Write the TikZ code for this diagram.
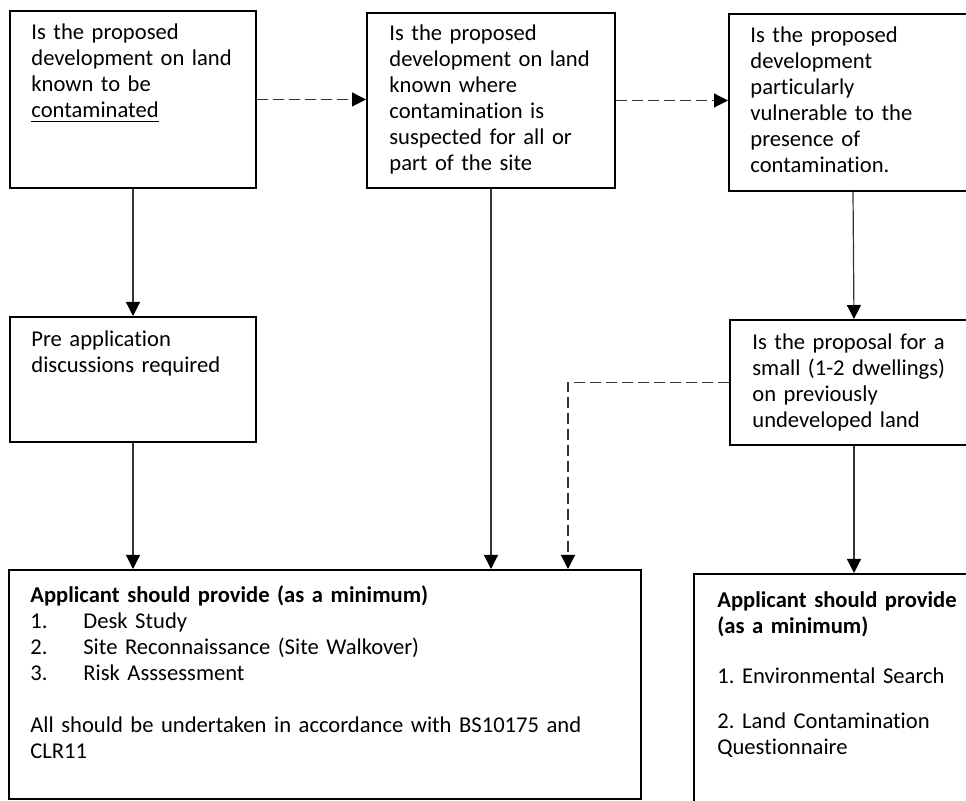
\documentclass[tikz,border=0pt]{standalone}
\usepackage{fontspec}
\setmainfont{Carlito}[Ligatures=NoCommon]
\usetikzlibrary{arrows.meta}
\frenchspacing

\tikzset{
  qbox/.style={draw, line width=1pt, anchor=north west, inner sep=0pt},
  qtext/.style={anchor=base west, align=left, inner sep=0pt, text width=#1,
    font=\fontsize{11.3}{13}\selectfont},
  qtext/.default=150pt,
  link/.style={draw=black!80, line width=0.6pt},
  dlink/.style={link, dash pattern=on 5.5pt off 2.5pt},
}

\begin{document}
\begin{tikzpicture}[->,>={Triangle[length=7pt,width=7pt,color=black]},x=0.5pt,y=-0.5pt]
   \useasboundingbox (0,0) rectangle (966,801);
   \clip (0,0) rectangle (966,801);
   % boxes
   \node[qbox, minimum width=123pt, minimum height=88.5pt] (a) at (9,10) {};
   \node[qbox, minimum width=124pt, minimum height=87.5pt] (b) at (366,12) {};
   \node[qbox, minimum width=124pt, minimum height=88.5pt] (c) at (728,13) {};
   \node[qbox, minimum width=123pt, minimum height=62.5pt] (d) at (9,316) {};
   \node[qbox, minimum width=124pt, minimum height=62.5pt] (e) at (729,319) {};
   \node[qbox, minimum width=316pt, minimum height=114.5pt] (f) at (8,569) {};
   \node[qbox, minimum width=160pt, minimum height=133.5pt] (g) at (693,573) {};
   % texts
   \node[qtext] (ta) at (31,40) {Is the proposed\\development on land\\known to be\\\underline{contaminated}};
   \node[qtext] (tb) at (389,41) {Is the proposed\\development on land\\known where\\contamination is\\suspected for all or\\part of the site};
   \node[qtext] (tc) at (750,43) {Is the proposed\\development\\particularly\\vulnerable to the\\presence of\\contamination.};
   \node[qtext] (td) at (31,347) {Pre application\\discussions required};
   \node[qtext] (te) at (752,350) {Is the proposal for a\\small (1-2 dwellings)\\on previously\\undeveloped land};
   \node[qtext=300pt] (tf) at (30,603) {\textbf{Applicant should provide (as a minimum)}\\
     \makebox[26.5pt][l]{1.}Desk Study\\
     \makebox[26.5pt][l]{2.}Site Reconnaissance (Site Walkover)\\
     \makebox[26.5pt][l]{3.}Risk Asssessment\\[13pt]
     All should be undertaken in accordance with BS10175 and\\CLR11};
   \node[qtext] (tg) at (717,608) {\textbf{Applicant should provide}\\\textbf{(as a minimum)}\\[12pt]
     1. Environmental Search\\[9.5pt]
     2. Land Contamination\\Questionnaire};
   % connectors
   \coordinate (fd) at (568,0 |- f.north);
   \path (a.east) edge[dlink] (a.east -| b.west);
   \path (b.east) edge[dlink] (b.east -| c.west);
   \path (a.south) edge[link] (d.north);
   \path (d.south) edge[link] (d.south |- f.north);
   \path (b.south) edge[link] (b.south |- f.north);
   \path (c.south) edge[link] (e.north);
   \draw[dlink] (e.west) -| (fd);
   \path (e.south) edge[link] (e.south |- g.north);

\end{tikzpicture}
\end{document}
